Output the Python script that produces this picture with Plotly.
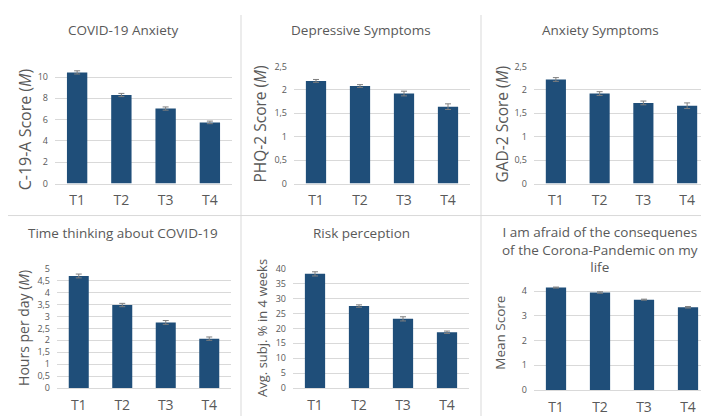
import plotly.graph_objects as go

W, H = 709, 416
categories = ["T1", "T2", "T3", "T4"]

titles = ["COVID-19 Anxiety", "Depressive Symptoms", "Anxiety Symptoms",
          "Time thinking about COVID-19", "Risk perception",
          "I am afraid of the consequenes<br>of the Corona-Pandemic on my<br>life"]
ytitles = ["C-19-A Score (<i>M</i>)", "PHQ-2 Score (<i>M</i>)", "GAD-2 Score (<i>M</i>)",
           "Hours per day (<i>M</i>)", "Avg. subj. % in 4 weeks", "Mean Score"]

c19a_vals = [10.43, 8.31, 7.04, 5.74]
c19a_err = [0.15, 0.15, 0.15, 0.12]
phq2_vals = [2.19, 2.08, 1.92, 1.64]
phq2_err = [0.03, 0.03, 0.05, 0.06]
gad2_vals = [2.22, 1.92, 1.72, 1.66]
gad2_err = [0.04, 0.04, 0.04, 0.06]
hours_vals = [4.70, 3.48, 2.75, 2.07]
hours_err = [0.08, 0.07, 0.08, 0.07]
risk_vals = [38.3, 27.5, 23.2, 18.7]
risk_err = [0.7, 0.4, 0.7, 0.4]
afraid_vals = [4.15, 3.95, 3.66, 3.35]
afraid_err = [0.02, 0.03, 0.02, 0.03]

series = [(c19a_vals, c19a_err), (phq2_vals, phq2_err), (gad2_vals, gad2_err),
          (hours_vals, hours_err), (risk_vals, risk_err), (afraid_vals, afraid_err)]

# layout (pixels): x0, x1, y_bottom, y_top, yrange max, dtick
panels = [
    (47, 224, 174, 53, 11, 2),
    (286, 462, 174, 53, 2.5, 0.5),
    (526, 701, 174, 53, 2.5, 0.5),
    (49, 223, 385, 262, 5, 0.5),
    (285, 461, 385, 262, 40, 5),
    (526, 702, 387, 275, 4.4, 1),
]
title_pos = [(115, 15), (353, 15), (592, 15), (115, 225), (353, 225), (592, 242)]
ytitle_pos = [(17, 118), (252, 113), (494, 113), (16, 323), (254, 323), (492, 328)]
ytitle_size = [16, 15.5, 15.5, 14, 13, 13.5]

BAR = "#1F4E79"
GRID = "#D9D9D9"
TXT = "#595959"
FONT = "Open Sans"

fig = go.Figure()
layout = dict(width=W, height=H, margin=dict(l=0, r=0, t=0, b=0),
              paper_bgcolor="white", plot_bgcolor="white", showlegend=False,
              font=dict(family=FONT, color=TXT))
annotations = []
shapes = []

for i, ((vals, err), (x0, x1, yb, yt, ymax, dt)) in enumerate(zip(series, panels)):
    n = i + 1
    xa = "x" if n == 1 else f"x{n}"
    ya = "y" if n == 1 else f"y{n}"
    fig.add_trace(go.Bar(
        x=categories, y=vals, xaxis=xa, yaxis=ya, width=0.46,
        marker=dict(color=BAR, line=dict(width=0)),
        error_y=dict(type="data", array=err, visible=True, color="#7F7F7F",
                     thickness=1, width=3),
        cliponaxis=False,
    ))
    tickvals = []
    v = 0.0
    while v <= ymax + 1e-9:
        tickvals.append(round(v, 4))
        v += dt
    if n == 1:
        tickvals = [0, 2, 4, 6, 8, 10]
    ticktext = [(f"{t:g}").replace(".", ",") for t in tickvals]
    layout["xaxis" if n == 1 else f"xaxis{n}"] = dict(
        domain=[x0 / W, x1 / W], anchor=ya, showgrid=False, showline=True,
        linecolor=GRID, linewidth=1, ticks="", tickfont=dict(size=14, color=TXT, family=FONT),
        fixedrange=True, ticklabelstandoff=4)
    layout["yaxis" if n == 1 else f"yaxis{n}"] = dict(
        domain=[(H - yb) / H, (H - yt) / H], anchor=xa, range=[0, ymax],
        tickvals=tickvals, ticktext=ticktext, showgrid=True, gridcolor=GRID,
        gridwidth=1, zeroline=False, showline=False, ticks="",
        tickfont=dict(size=9, color=TXT, family=FONT), fixedrange=True,
        ticklabelstandoff=6)
    tx, ty = title_pos[i]
    annotations.append(dict(text=titles[i], x=tx / W, y=(H - ty) / H, xref="paper",
                            yref="paper", showarrow=False, xanchor="center",
                            yanchor="middle", font=dict(size=13.5, color=TXT, family=FONT)))
    yx, yy = ytitle_pos[i]
    annotations.append(dict(text=ytitles[i], x=yx / W, y=(H - yy) / H, xref="paper",
                            yref="paper", showarrow=False, xanchor="center",
                            yanchor="middle", textangle=-90,
                            font=dict(size=ytitle_size[i], color=TXT, family=FONT)))

for xv in (233, 473):
    shapes.append(dict(type="line", xref="paper", yref="paper", x0=xv / W, x1=xv / W,
                       y0=0, y1=1, line=dict(color=GRID, width=1)))
shapes.append(dict(type="line", xref="paper", yref="paper", x0=0, x1=1,
                   y0=(H - 207) / H, y1=(H - 207) / H, line=dict(color=GRID, width=1)))

layout["annotations"] = annotations
layout["shapes"] = shapes
fig.update_layout(**layout)
fig.write_html("out.html")
